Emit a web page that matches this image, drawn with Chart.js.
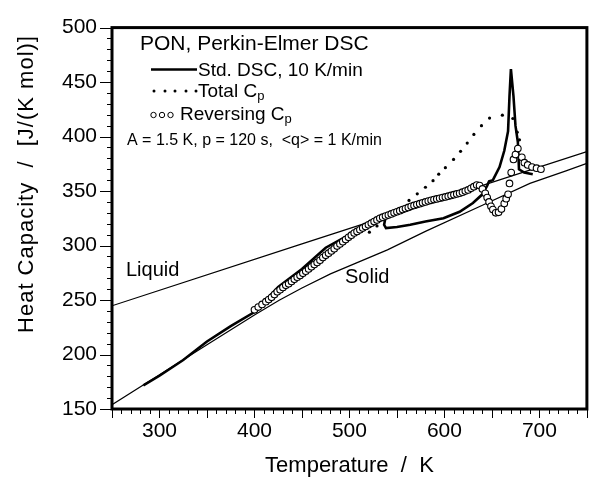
<!DOCTYPE html>
<html>
<head>
<meta charset="utf-8">
<script src="https://cdn.jsdelivr.net/npm/chart.js@4.4.0/dist/chart.umd.min.js"></script>
<style>
  html, body { margin: 0; padding: 0; background: #fff; }
  canvas { display: block; }
</style>
</head>
<body>
<canvas id="dscChart" width="592" height="479"></canvas>
<script>
// axis ticks
const xTicks = [300, 400, 500, 600, 700];
const yTicks = [150, 200, 250, 300, 350, 400, 450, 500];

// reference lines
const liquidT = [250, 450, 750];
const liquidCp = [244.7, 301.5, 386.2];
const solidT = [250, 300, 350, 400, 426, 450, 480, 510, 540, 580, 640, 690, 728, 750];
const solidCp = [154, 181.5, 209, 236.3, 249.8, 261, 274, 285, 296, 313, 337, 357, 368.5, 375.4];

// Std. DSC, 10 K/min
const stdT = [283, 300, 325, 350, 375, 400, 425, 450, 475, 500, 520, 535, 538, 536.5, 538.5, 550, 564, 580, 599, 616, 630,
  640, 645, 647, 651, 658, 663, 667, 668.5, 670, 672.7, 674.8, 677.3, 678.5, 684, 693];
const stdCp = [171.6, 180.5, 195, 212, 226, 239, 262, 278.5, 298, 310, 319, 325, 326, 319, 316, 317, 319, 322, 325, 331, 339,
  347, 355, 359, 360, 372, 387, 405, 437, 462, 437, 410, 395, 370, 367, 365.5];

// Total Cp (dotted)
const totalT = [521, 529, 537, 545, 553, 562.7, 571.4, 580, 588, 594, 601, 609.6, 617, 624, 631, 639, 647.5, 661, 672, 676.6, 679];
const totalCp = [312.3, 318, 323.5, 328.8, 334, 341.4, 347.5, 353.5, 359.5, 365.5, 371.5, 379, 386.5, 394, 402, 410, 417, 419.6, 416.6, 404, 397];

// Reversing Cp (open circles)
const revT = [400, 404, 408, 412, 415, 418, 421, 424, 427, 430, 433, 436, 439, 442, 445, 448, 451, 454, 457, 460,
  463, 466, 469, 472, 475, 478, 481, 484, 487, 490, 493, 496, 499, 502, 505, 508, 511, 514, 517, 520,
  523, 526, 529, 532, 535, 538, 541, 544, 547, 550, 553, 556, 559, 562, 565, 568, 571, 574, 577, 580,
  583, 586, 589, 592, 595, 598, 601, 604, 607, 610, 613, 616, 619, 622, 625, 628, 631, 634, 637, 640,
  643, 645, 647, 649, 651, 654, 657, 660, 663, 665, 667, 668.5, 670.3, 672.7, 674.8, 677.3, 681.5, 684.2, 687.7, 692.2, 697, 701.6];
const revCp = [241, 243.5, 246, 248.5, 250.5, 252.5, 255, 257.5, 259.5, 261.5, 263.5, 265, 267, 269, 271, 272.5, 274.5, 276.5, 278.5, 280.5,
  282.5, 284.5, 286.5, 289, 291, 293, 295, 297, 299.5, 301.5, 303.5, 305.5, 307.5, 309.5, 311.5, 313, 314.5, 316, 317.5, 319,
  320.5, 322, 323.5, 325, 326, 327, 328, 329, 330, 331, 332, 333, 334, 335, 336, 336.8, 337.6, 338.4, 339.2, 340,
  340.8, 341.5, 342.2, 342.8, 343.4, 344, 344.6, 345.3, 346, 346.7, 347.4, 348, 349, 350, 351, 352.5, 354, 355.5, 355, 352,
  348, 344, 340, 336, 333, 330, 330.5, 333.5, 338.5, 343, 347, 357, 367, 379, 383.5, 389, 381, 376, 374, 372, 371, 370];

const pts = (xs, ys) => xs.map((v, i) => ({ x: v, y: ys[i] }));
const FONT = "'Liberation Sans', Arial, sans-serif";

const framePlugin = {
  id: 'frame',
  afterDraw(chart) {
    const { ctx, chartArea: a, scales: { x, y } } = chart;
    ctx.save();
    ctx.strokeStyle = '#000';
    ctx.lineWidth = 1;
    ctx.beginPath();
    for (let v = 150; v <= 500; v += 10) {
      const py = Math.round(y.getPixelForValue(v)) + 0.5;
      const len = v % 50 === 0 ? 12 : 5;
      ctx.moveTo(a.left - len, py);
      ctx.lineTo(a.left, py);
    }
    for (let v = 250; v <= 750; v += 10) {
      const px = Math.round(x.getPixelForValue(v)) + 0.5;
      const len = v % 50 === 0 ? 9 : 5;
      ctx.moveTo(px, a.bottom);
      ctx.lineTo(px, a.bottom + len);
    }
    ctx.stroke();
    ctx.lineWidth = 3;
    ctx.strokeRect(a.left, a.top, a.right - a.left, a.bottom - a.top);

    // y axis title
    ctx.fillStyle = '#000';
    ctx.font = '22px ' + FONT;
    ctx.save();
    ctx.translate(27, 184);
    ctx.rotate(-Math.PI / 2);
    ctx.textAlign = 'center';
    ctx.textBaseline = 'middle';
    ctx.letterSpacing = '1px';
    ctx.fillText('Heat Capacity  /  [J/(K mol)]', 0, 0);
    ctx.restore();

    // curve labels
    ctx.textAlign = 'left';
    ctx.textBaseline = 'alphabetic';
    ctx.font = '20px ' + FONT;
    ctx.fillText('Liquid', 126, 276);
    ctx.fillText('Solid', 345, 283);

    // legend block
    ctx.font = '21px ' + FONT;
    ctx.fillText('PON, Perkin-Elmer DSC', 140, 50);

    ctx.lineWidth = 2.4;
    ctx.beginPath();
    ctx.moveTo(151, 69.5);
    ctx.lineTo(197, 69.5);
    ctx.stroke();
    ctx.font = '19px ' + FONT;
    ctx.fillText('Std. DSC, 10 K/min', 198, 76);

    [154, 165, 175, 186, 196].forEach(px => {
      ctx.beginPath();
      ctx.arc(px, 91, 1.5, 0, Math.PI * 2);
      ctx.fill();
    });
    ctx.fillText('Total C', 198, 97);
    let w = ctx.measureText('Total C').width;
    ctx.font = '13px ' + FONT;
    ctx.fillText('p', 198 + w, 100);

    ctx.lineWidth = 1;
    [153.5, 162, 170.5].forEach(px => {
      ctx.beginPath();
      ctx.arc(px, 115, 2.7, 0, Math.PI * 2);
      ctx.stroke();
    });
    ctx.font = '19px ' + FONT;
    ctx.fillText('Reversing C', 180, 120);
    w = ctx.measureText('Reversing C').width;
    ctx.font = '13px ' + FONT;
    ctx.fillText('p', 180 + w, 123);

    ctx.font = '16px ' + FONT;
    ctx.fillText('A = 1.5 K, p = 120 s,  <q> = 1 K/min', 127, 145);
    ctx.restore();
  }
};

new Chart(document.getElementById('dscChart'), {
  type: 'scatter',
  data: {
    datasets: [
      {
        label: 'Reversing Cp',
        data: pts(revT, revCp),
        showLine: false,
        pointRadius: 3.3,
        pointBorderWidth: 1.1,
        pointBorderColor: '#000',
        pointBackgroundColor: '#fff',
        order: 0
      },
      {
        label: 'Std. DSC, 10 K/min',
        data: pts(stdT, stdCp),
        showLine: true,
        borderColor: '#000',
        borderWidth: 2.6,
        pointRadius: 0,
        order: 1
      },
      {
        label: 'Total Cp',
        data: pts(totalT, totalCp),
        showLine: false,
        pointRadius: 1.6,
        pointBorderWidth: 0,
        pointBackgroundColor: '#000',
        order: 2
      },
      {
        label: 'Liquid',
        data: pts(liquidT, liquidCp),
        showLine: true,
        borderColor: '#000',
        borderWidth: 1.2,
        pointRadius: 0,
        order: 3
      },
      {
        label: 'Solid',
        data: pts(solidT, solidCp),
        showLine: true,
        borderColor: '#000',
        borderWidth: 1.2,
        pointRadius: 0,
        order: 3
      }
    ]
  },
  options: {
    responsive: false,
    animation: false,
    devicePixelRatio: 1,
    layout: { padding: { left: 0, right: 2, top: 21, bottom: 0 } },
    plugins: { legend: { display: false }, tooltip: { enabled: false } },
    scales: {
      x: {
        type: 'linear',
        min: 250,
        max: 750,
        afterBuildTicks: s => { s.ticks = xTicks.map(v => ({ value: v })); },
        afterFit: s => { s.height = 70; },
        grid: { display: false, drawTicks: false },
        border: { display: false },
        ticks: { color: '#000', font: { family: FONT, size: 21 }, padding: 10, maxRotation: 0, autoSkip: false },
        title: { display: true, text: 'Temperature  /  K', color: '#000', font: { family: FONT, size: 22 }, padding: { top: 0, bottom: 0 } }
      },
      y: {
        type: 'linear',
        min: 150,
        max: 500,
        afterBuildTicks: s => { s.ticks = yTicks.map(v => ({ value: v })); },
        afterFit: s => { s.width = 112; },
        grid: { display: false, drawTicks: false },
        border: { display: false },
        ticks: { color: '#000', font: { family: FONT, size: 21 }, padding: 15, autoSkip: false }
      }
    }
  },
  plugins: [framePlugin]
});
</script>
</body>
</html>
